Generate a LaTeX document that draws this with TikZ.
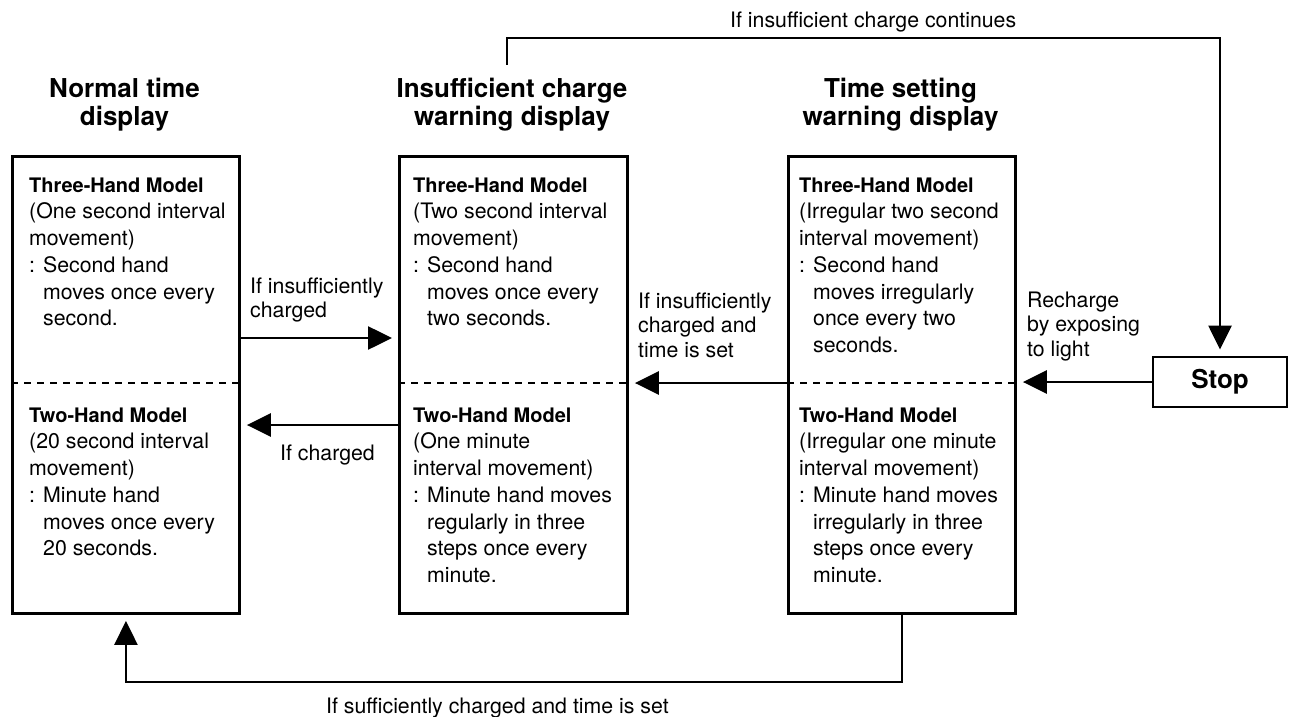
\documentclass[tikz,border=0pt]{standalone}
\usepackage{fontspec}
\setmainfont{TeX Gyre Heros}
\usetikzlibrary{arrows.meta,calc}
\frenchspacing
\newcommand\topstr{\rule{0pt}{17pt}}
\newcommand\titlestr{\rule{0pt}{21pt}}
\newcommand\hind{\hspace*{14pt}}
\newcommand\colonlead{\makebox[14pt][l]{:}}
\newcommand\boxhead[1]{{\bfseries\fontsize{20}{26.7}\selectfont #1}}
\begin{document}
\begin{tikzpicture}[x=1pt,y=-1pt,
  box/.style={draw,line width=2.9pt,inner sep=0pt,anchor=north west,minimum height=457pt},
  conn/.style={line width=2.6pt},
  arr/.style={conn,-{Triangle[length=24pt,width=23pt]},shorten >=6pt},
  divider/.style={line width=1.5pt,dash pattern=on 7pt off 6pt},
  body/.style={anchor=north west,inner sep=0pt,align=left,font=\fontsize{21.3}{26.7}\selectfont},
  lbl/.style={anchor=north west,inner sep=0pt,align=left,font=\fontsize{21.3}{24.5}\selectfont},
  ttl/.style={anchor=north,inner sep=0pt,align=center,font=\bfseries\fontsize{26}{28}\selectfont}
]
\useasboundingbox (0,0) rectangle (1290,717);

% boxes
\node[box,minimum width=227pt] (b1) at (11,155) {};
\node[box,minimum width=228pt] (b2) at (398,155) {};
\node[box,minimum width=227pt] (b3) at (787,155) {};
\node[draw,line width=2.9pt,minimum width=134pt,minimum height=50pt,inner sep=0pt,
      font=\bfseries\fontsize{26}{28}\selectfont] (stop) at (1220,382) {Stop};

% titles
\node[ttl] (t1) at (124.5,76) {\titlestr Normal time\\display};
\node[ttl] (t2) at (512,76) {\titlestr Insufficient charge\\warning display};
\node[ttl] (t3) at (900.5,76) {\titlestr Time setting\\warning display};

% helper coordinates
\coordinate (mid) at (0,383);
\coordinate (r1) at (0,338);
\coordinate (r2) at (0,425);
\coordinate (ty) at (0,38);
\coordinate (by) at (0,682);
\coordinate (ts) at (507,65);

% dividers
\draw[divider] (b1.west |- mid) -- (b1.east |- mid);
\draw[divider] (b2.west |- mid) -- (b2.east |- mid);
\draw[divider] (b3.west |- mid) -- (b3.east |- mid);

% box texts
\node[body] (b1top) at (29,175) {\topstr\boxhead{Three-Hand Model}\\(One second interval\\movement)\\\colonlead Second hand\\\hind moves once every\\\hind second.};
\node[body] (b1bot) at (29,405) {\topstr\boxhead{Two-Hand Model}\\(20 second interval\\movement)\\\colonlead Minute hand\\\hind moves once every\\\hind 20 seconds.};
\node[body] (b2top) at (413,175) {\topstr\boxhead{Three-Hand Model}\\(Two second interval\\movement)\\\colonlead Second hand\\\hind moves once every\\\hind two seconds.};
\node[body] (b2bot) at (413,405) {\topstr\boxhead{Two-Hand Model}\\(One minute\\interval movement)\\\colonlead Minute hand moves\\\hind regularly in three\\\hind steps once every\\\hind minute.};
\node[body] (b3top) at (799,175) {\topstr\boxhead{Three-Hand Model}\\(Irregular two second\\interval movement)\\\colonlead Second hand\\\hind moves irregularly\\\hind once every two\\\hind seconds.};
\node[body] (b3bot) at (799,405) {\topstr\boxhead{Two-Hand Model}\\(Irregular one minute\\interval movement)\\\colonlead Minute hand moves\\\hind irregularly in three\\\hind steps once every\\\hind minute.};

% connectors
\draw[arr] (b1.east |- r1) -- (b2.west |- r1);
\draw[arr] (b2.west |- r2) -- (b1.east |- r2);
\draw[arr] (b3.west |- mid) -- (b2.east |- mid);
\draw[arr] (stop.west) -- (b3.east |- stop.west);
\draw[arr] (ts) -- (ts |- ty) -- (stop.north |- ty) -- (stop.north);
\draw[arr] (b3.south) -- (b3.south |- by) -- (b1.south |- by) -- (b1.south);

% connector labels
\node[lbl] (l1) at (250,276) {\topstr If insufficiently\\charged};
\node[lbl] (l2) at (280,443) {\topstr If charged};
\node[lbl] (l3) at (638,291) {\topstr If insufficiently\\charged and\\time is set};
\node[lbl] (l4) at (1027,290) {\topstr Recharge\\by exposing\\to light};
\node[lbl] (l5) at (730,10) {\topstr If insufficient charge continues};
\node[lbl] (l6) at (326,696) {\topstr If sufficiently charged and time is set};
\end{tikzpicture}
\end{document}
